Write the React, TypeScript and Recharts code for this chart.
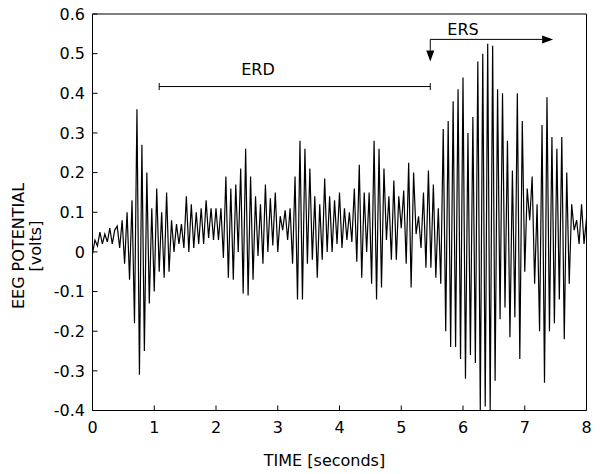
import { LineChart, Line, XAxis, YAxis, ReferenceLine, ReferenceDot } from "recharts"

// sample spacing of the traced extremes, seconds
const STEP = 0.04

// EEG potential (volts), one array per second
const sec0 = [-0.005, 0.03, 0.015, 0.05, 0.02, 0.045, 0.025, 0.06, 0.02, 0.055, 0.065, 0.01, 0.08, -0.03, 0.1, -0.07, 0.13, -0.18, 0.36, -0.31, 0.27, -0.25, 0.2, -0.13, 0.11]
const sec1 = [-0.1, 0.16, -0.05, 0.1, -0.065, 0.15, -0.05, 0.08, 0.0, 0.07, 0.02, 0.07, 0.01, 0.14, 0.0, 0.12, 0.01, 0.1, 0.02, 0.11, 0.02, 0.13, 0.035, 0.11, 0.03]
const sec2 = [0.11, 0.03, 0.11, -0.015, 0.19, -0.065, 0.16, -0.07, 0.17, 0.0, 0.21, -0.105, 0.26, -0.11, 0.19, -0.07, 0.14, -0.01, 0.12, -0.03, 0.17, 0.0, 0.135, 0.016, 0.15]
const sec3 = [0.0, 0.09, 0.055, 0.105, 0.03, 0.11, -0.03, 0.19, -0.12, 0.28, -0.12, 0.26, -0.03, 0.21, -0.02, 0.14, -0.065, 0.12, -0.02, 0.185, 0.0, 0.14, 0.0, 0.13, 0.02]
const sec4 = [0.15, 0.01, 0.11, 0.03, 0.1, 0.025, 0.16, -0.025, 0.22, -0.065, 0.15, 0.0, 0.15, -0.08, 0.28, -0.12, 0.26, -0.09, 0.21, 0.03, 0.14, -0.02, 0.18, -0.02, 0.14]
const sec5 = [0.06, 0.155, -0.03, 0.225, -0.09, 0.2, 0.045, 0.09, 0.01, 0.15, -0.04, 0.205, -0.04, 0.17, -0.065, 0.11, -0.08, 0.31, -0.2, 0.33, -0.24, 0.38, -0.24, 0.41, -0.27]
const sec6 = [0.44, -0.32, 0.3, -0.26, 0.34, -0.28, 0.48, -0.4, 0.5, -0.39, 0.525, -0.4, 0.52, -0.325, 0.41, -0.17, 0.4, -0.14, 0.28, -0.215, 0.205, -0.165, 0.4, -0.27, 0.33]
const sec7 = [-0.05, 0.16, 0.08, 0.19, -0.08, 0.12, -0.2, 0.32, -0.33, 0.39, -0.2, 0.29, -0.18, 0.26, -0.12, 0.29, -0.22, 0.2, -0.08, 0.12, 0.055, 0.08, 0.02, 0.12, 0.02, 0.085]

const xTicks = [0, 1, 2, 3, 4, 5, 6, 7, 8]
const yTicks = [-0.4, -0.3, -0.2, -0.1, 0, 0.1, 0.2, 0.3, 0.4, 0.5, 0.6]

// annotations (data units)
const erd = { from: 1.08, to: 5.47, level: 0.417, textX: 2.68, textY: 0.459 }
const ers = { from: 5.47, to: 7.46, level: 0.536, tip: 0.48, textX: 6.0, textY: 0.562 }

const data = [...sec0, ...sec1, ...sec2, ...sec3, ...sec4, ...sec5, ...sec6, ...sec7].map((v, i) => ({
  t: Math.round(i * STEP * 100) / 100,
  v,
}))

const FONT = "'DejaVu Sans', sans-serif"
const tickStyle = { fontSize: 16, fill: "#000", fontFamily: FONT }

function Arrow(props: any) {
  const { x1, y1, x2, y2 } = props
  const dx = x2 - x1
  const dy = y2 - y1
  const len = Math.hypot(dx, dy) || 1
  const ux = dx / len
  const uy = dy / len
  const head = 11
  const half = 4
  const bx = x2 - ux * head
  const by = y2 - uy * head
  const pts = `${x2},${y2} ${bx - uy * half},${by + ux * half} ${bx + uy * half},${by - ux * half}`
  return (
    <g>
      <line x1={x1} y1={y1} x2={bx} y2={by} stroke="#000" strokeWidth={1} />
      <polygon points={pts} fill="#000" />
    </g>
  )
}

function Span(props: any) {
  const { x1, y1, x2, y2 } = props
  return (
    <g stroke="#000" strokeWidth={1}>
      <line x1={x1} y1={y1} x2={x2} y2={y2} />
      <line x1={x1} y1={y1 - 3.5} x2={x1} y2={y1 + 3.5} />
      <line x1={x2} y1={y2 - 3.5} x2={x2} y2={y2 + 3.5} />
    </g>
  )
}

const tag = (text: string) => (p: any) => (
  <text x={p.cx} y={p.cy} textAnchor="middle" dominantBaseline="central" fontSize={16} fontFamily={FONT} fill="#000">
    {text}
  </text>
)

export default function App() {
  return (
    <div style={{ position: "absolute", left: 0, top: 0, width: 600, height: 474, background: "#fff" }}>
      <LineChart width={600} height={474} data={data} margin={{ top: 4, right: 3.5, bottom: 23.5, left: 32.5 }}>
        <XAxis
          type="number"
          dataKey="t"
          domain={[0, 8]}
          ticks={xTicks}
          allowDataOverflow
          height={40}
          tickSize={-5}
          tickMargin={16.5}
          tick={tickStyle}
          stroke="#000"
        />
        <XAxis
          xAxisId="top"
          orientation="top"
          type="number"
          dataKey="t"
          domain={[0, 8]}
          ticks={xTicks}
          allowDataOverflow
          height={10}
          tickSize={-5}
          tick={false}
          stroke="#000"
        />
        <YAxis
          type="number"
          domain={[-0.4, 0.6]}
          ticks={yTicks}
          allowDataOverflow
          width={60}
          tickSize={-5}
          tickMargin={12.5}
          tick={tickStyle}
          tickFormatter={(v: number) => String(Math.round(v * 10) / 10)}
          stroke="#000"
        />
        <YAxis
          yAxisId="right"
          orientation="right"
          type="number"
          domain={[-0.4, 0.6]}
          ticks={yTicks}
          allowDataOverflow
          width={10}
          tickSize={-5}
          tick={false}
          stroke="#000"
        />
        <Line type="linear" dataKey="v" stroke="#000" strokeWidth={1.2} dot={false} isAnimationActive={false} />
        <ReferenceLine
          segment={[
            { x: erd.from, y: erd.level },
            { x: erd.to, y: erd.level },
          ]}
          shape={Span}
        />
        <ReferenceLine
          segment={[
            { x: ers.from, y: ers.level },
            { x: ers.from, y: ers.tip },
          ]}
          shape={Arrow}
        />
        <ReferenceLine
          segment={[
            { x: ers.from, y: ers.level },
            { x: ers.to, y: ers.level },
          ]}
          shape={Arrow}
        />
        <ReferenceDot x={erd.textX} y={erd.textY} r={0} shape={tag("ERD")} />
        <ReferenceDot x={ers.textX} y={ers.textY} r={0} shape={tag("ERS")} />
      </LineChart>
      <div
        style={{
          position: "absolute",
          left: 324.5,
          top: 461,
          transform: "translate(-50%, -50%)",
          whiteSpace: "nowrap",
          fontFamily: FONT,
          fontSize: 16,
          lineHeight: 1,
        }}
      >
        TIME [seconds]
      </div>
      <div
        style={{
          position: "absolute",
          left: 27,
          top: 246,
          transform: "translate(-50%, -50%) rotate(-90deg)",
          whiteSpace: "nowrap",
          textAlign: "center",
          fontFamily: FONT,
          fontSize: 16,
          lineHeight: "17px",
        }}
      >
        EEG POTENTIAL
        <br />
        [volts]
      </div>
    </div>
  )
}
